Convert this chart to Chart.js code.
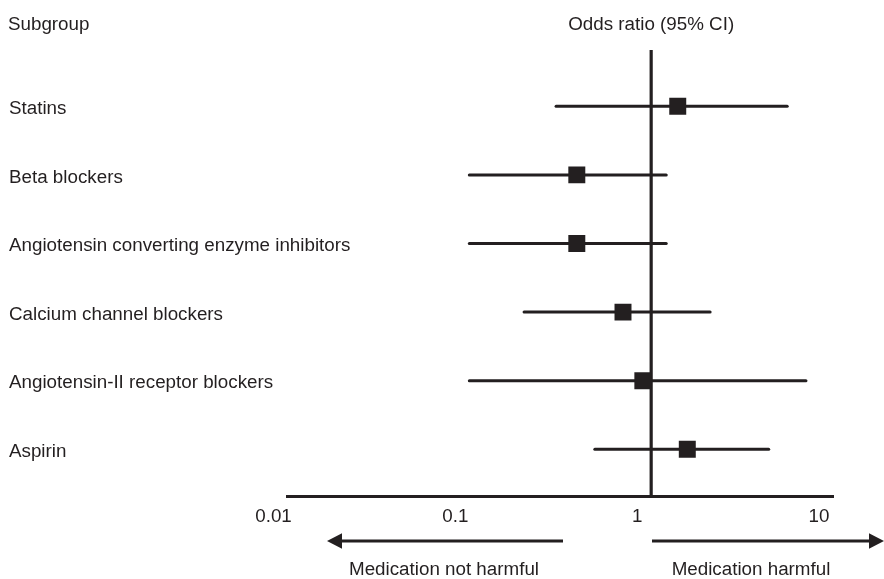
<!DOCTYPE html>
<html>
<head>
<meta charset="utf-8">
<title>Odds ratio by medication subgroup</title>
<script src="https://cdn.jsdelivr.net/npm/chart.js@4/dist/chart.umd.min.js"></script>
<style>
  html, body { margin: 0; padding: 0; background: #ffffff; }
  canvas { display: block; }
</style>
</head>
<body>
<canvas id="forest" width="884" height="579"></canvas>
<script>
// Subgroups, top to bottom
const subgroups = [
  'Statins',
  'Beta blockers',
  'Angiotensin converting enzyme inhibitors',
  'Calcium channel blockers',
  'Angiotensin-II receptor blockers',
  'Aspirin'
];
// Point estimates and 95% confidence limits
const oddsRatio = [1.40, 0.39, 0.39, 0.70, 0.90, 1.58];
const ciLower   = [0.30, 0.10, 0.10, 0.20, 0.10, 0.49];
const ciUpper   = [5.60, 1.21, 1.21, 2.11, 7.10, 4.43];

// Log axis ticks
const xTicks      = [0.01, 0.1, 1, 10];
const xTickLabels = ['0.01', '0.1', '1', '10'];
const nullValue = 1;

const headerLeft  = 'Subgroup';
const headerRight = 'Odds ratio (95% CI)';
const leftNote  = 'Medication not harmful';
const rightNote = 'Medication harmful';

const INK = '#231f20';
const FONT_FAMILY = "'Liberation Sans', Arial, Helvetica, sans-serif";
const FONT_SIZE = 18.8;
const Y_MIN = -0.82, Y_MAX = 5.68;

Chart.defaults.font.family = FONT_FAMILY;
Chart.defaults.font.size = FONT_SIZE;
Chart.defaults.color = INK;

// One horizontal segment per confidence interval
const ciDatasets = subgroups.map((name, i) => ({
  label: name + ' CI',
  data: [{ x: ciLower[i], y: i }, { x: ciUpper[i], y: i }],
  showLine: true,
  borderColor: INK,
  borderWidth: 3,
  borderCapStyle: 'round',
  pointRadius: 0,
  pointHoverRadius: 0,
  order: 3
}));

// Line of no effect at OR = 1
const nullLine = {
  label: 'No effect',
  data: [{ x: nullValue, y: Y_MIN }, { x: nullValue, y: Y_MAX }],
  showLine: true,
  borderColor: INK,
  borderWidth: 3.2,
  pointRadius: 0,
  pointHoverRadius: 0,
  order: 2
};

// Square markers for the odds ratios
const estimates = {
  label: 'Odds ratio',
  data: oddsRatio.map((v, i) => ({ x: v, y: i })),
  pointStyle: 'rect',
  pointRadius: 12,
  pointHoverRadius: 12,
  backgroundColor: INK,
  borderWidth: 0,
  order: 1
};

function drawArrow(ctx, x1, y, tipX, headLen, headHalf) {
  const dir = Math.sign(tipX - x1);
  ctx.beginPath();
  ctx.moveTo(x1, y);
  ctx.lineTo(tipX - dir * (headLen - 1), y);
  ctx.stroke();
  ctx.beginPath();
  ctx.moveTo(tipX, y);
  ctx.lineTo(tipX - dir * headLen, y - headHalf);
  ctx.lineTo(tipX - dir * headLen, y + headHalf);
  ctx.closePath();
  ctx.fill();
}

// Row labels, column headers and direction arrows under the axis
const forestText = {
  id: 'forestText',
  afterDraw(chart) {
    const { ctx, scales: { x, y } } = chart;
    ctx.save();
    ctx.fillStyle = INK;
    ctx.strokeStyle = INK;
    ctx.font = FONT_SIZE + 'px ' + FONT_FAMILY;

    ctx.textAlign = 'left';
    ctx.textBaseline = 'middle';
    subgroups.forEach((name, i) => {
      ctx.fillText(name, 9, y.getPixelForValue(i) + 2.5);
    });

    ctx.textBaseline = 'alphabetic';
    ctx.fillText(headerLeft, 8, 30);
    ctx.textAlign = 'center';
    ctx.fillText(headerRight, x.getPixelForValue(nullValue), 30);

    const arrowY = 541;
    ctx.lineWidth = 2.8;
    ctx.lineCap = 'butt';
    drawArrow(ctx, 563, arrowY, 327, 15, 7.8);
    drawArrow(ctx, 652, arrowY, 884, 15, 7.8);

    ctx.fillText(leftNote, 444, 575);
    ctx.fillText(rightNote, 751, 575);
    ctx.restore();
  }
};

new Chart(document.getElementById('forest'), {
  type: 'scatter',
  data: { datasets: [...ciDatasets, nullLine, estimates] },
  options: {
    responsive: false,
    animation: false,
    devicePixelRatio: 1,
    layout: { padding: { left: 9, top: 50, right: 51, bottom: 0 } },
    plugins: {
      legend: { display: false },
      tooltip: { enabled: false }
    },
    scales: {
      x: {
        type: 'logarithmic',
        min: 0.01,
        max: 10,
        afterBuildTicks: s => { s.ticks = xTicks.map(v => ({ value: v })); },
        afterFit: s => { s.height = 83; },
        grid: { display: false, drawTicks: false },
        border: { display: true, color: INK, width: 3 },
        ticks: {
          color: INK,
          padding: 10,
          labelOffset: -14,
          autoSkip: false,
          maxRotation: 0,
          callback: v => xTickLabels[xTicks.indexOf(v)]
        }
      },
      y: {
        type: 'linear',
        reverse: true,
        min: Y_MIN,
        max: Y_MAX,
        afterFit: s => { s.width = 287.5 - 9; },
        grid: { display: false, drawTicks: false },
        border: { display: false },
        ticks: { display: false }
      }
    }
  },
  plugins: [forestText]
});
</script>
</body>
</html>
